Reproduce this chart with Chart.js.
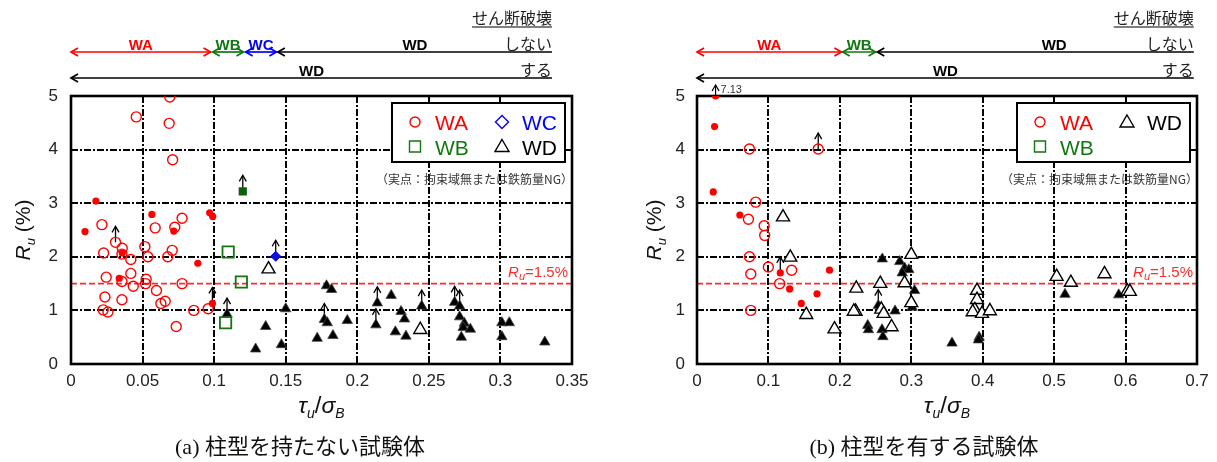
<!DOCTYPE html>
<html>
<head>
<meta charset="utf-8">
<script src="https://cdn.jsdelivr.net/npm/chart.js@4.4.1/dist/chart.umd.min.js"></script>
<style>
body { margin: 0; background: #fff; width: 1217px; height: 462px; overflow: hidden; position: relative; }
.panel { position: absolute; top: 0; height: 462px; }
#pa { left: 0; width: 620px; }
#pb { left: 620px; width: 597px; }
</style>
</head>
<body>
<div class="panel" id="pa"><canvas id="chartA" width="620" height="462"></canvas></div>
<div class="panel" id="pb"><canvas id="chartB" width="597" height="462"></canvas></div>
<script>
// ---- axis ticks ----
const xTicksA = [0, 0.05, 0.1, 0.15, 0.2, 0.25, 0.3, 0.35];
const xLabelsA = ['0', '0.05', '0.1', '0.15', '0.2', '0.25', '0.3', '0.35'];
const xTicksB = [0, 0.1, 0.2, 0.3, 0.4, 0.5, 0.6, 0.7];
const xLabelsB = ['0', '0.1', '0.2', '0.3', '0.4', '0.5', '0.6', '0.7'];
const yTicks = [0, 1, 2, 3, 4, 5];
const yLabels = ['0', '1', '2', '3', '4', '5'];
const refRu = 1.5;

// ---- (a) no column shape: [tau_u/sigma_B, Ru %] ----
const waOpenA = [
  [0.069, 4.98], [0.0456, 4.61], [0.0686, 4.49], [0.071, 3.81],
  [0.0216, 2.60], [0.0311, 2.27], [0.0358, 2.16], [0.0356, 2.05], [0.0228, 2.07], [0.0418, 1.95],
  [0.0516, 2.19], [0.0537, 2.0], [0.0588, 2.54], [0.0725, 2.55], [0.0776, 2.72], [0.0707, 2.12], [0.0676, 2.0],
  [0.0246, 1.62], [0.0418, 1.69], [0.0356, 1.54], [0.0435, 1.45], [0.0525, 1.58], [0.0521, 1.50],
  [0.0597, 1.37], [0.0776, 1.50], [0.0237, 1.25], [0.0356, 1.20], [0.0658, 1.17], [0.0628, 1.13],
  [0.0225, 1.01], [0.0258, 0.97], [0.0735, 0.70], [0.0858, 1.0], [0.0958, 1.03]
];
const waFilledA = [
  [0.0174, 3.04], [0.0098, 2.47], [0.0565, 2.79], [0.0718, 2.48], [0.0969, 2.82], [0.099, 2.75],
  [0.0358, 2.07], [0.0337, 1.60], [0.0886, 1.88], [0.0988, 1.13]
];
const wbOpenA = [[0.1098, 2.09], [0.119, 1.53], [0.108, 0.77]];
const wbFilledA = [[0.12, 3.22]];
const wcFilledA = [[0.143, 2.01]];
const wdOpenA = [[0.138, 1.77], [0.244, 0.64]];
const wdFilledA = [
  [0.109, 0.93], [0.136, 0.70], [0.129, 0.28], [0.147, 0.36], [0.15, 1.03],
  [0.1785, 1.46], [0.182, 1.39], [0.177, 0.83], [0.179, 0.77], [0.172, 0.48], [0.183, 0.53], [0.193, 0.81],
  [0.214, 1.14], [0.213, 0.73], [0.2237, 1.28], [0.2306, 0.98], [0.233, 0.84], [0.2266, 0.60], [0.234, 0.52],
  [0.245, 1.08], [0.268, 1.15], [0.2715, 1.08], [0.2715, 0.88], [0.2748, 0.76], [0.274, 0.68], [0.279, 0.65],
  [0.2727, 0.50], [0.301, 0.77], [0.3062, 0.77], [0.301, 0.51], [0.331, 0.41]
];
// specimens that did not reach the limit (arrow up)
const upA = [
  [0.0311, 2.27], [0.0988, 1.13], [0.109, 0.93], [0.12, 3.22], [0.143, 2.01], [0.177, 0.83],
  [0.214, 1.14], [0.213, 0.73], [0.245, 1.08], [0.268, 1.15], [0.2715, 1.08]
];

// ---- (b) with column shape ----
const waOpenB = [
  [0.0734, 4.01], [0.1697, 4.01], [0.0822, 3.02], [0.072, 2.70], [0.094, 2.58], [0.0948, 2.40],
  [0.0734, 2.0], [0.0753, 1.68], [0.0999, 1.81], [0.1325, 1.75], [0.1157, 1.50], [0.0753, 1.0]
];
const waFilledB = [
  [0.026, 5.0], [0.0246, 4.43], [0.0227, 3.21], [0.06, 2.78], [0.1166, 1.70], [0.1297, 1.40],
  [0.146, 1.13], [0.168, 1.31], [0.1855, 1.75]
];
const wdOpenB = [
  [0.1204, 2.74], [0.1306, 1.99], [0.153, 0.92], [0.1925, 0.65], [0.223, 1.41], [0.222, 0.98], [0.2195, 0.98],
  [0.2566, 1.50], [0.258, 1.02], [0.2613, 0.94], [0.2724, 0.69], [0.2906, 1.51], [0.3, 2.04], [0.3, 1.14],
  [0.392, 1.37], [0.392, 1.20], [0.389, 1.01], [0.386, 0.97], [0.399, 0.94], [0.41, 0.99],
  [0.5035, 1.63], [0.5234, 1.52], [0.5705, 1.68], [0.6025, 1.36], [0.606, 1.35]
];
const wdFilledB = [
  [0.2227, 1.42], [0.2594, 1.96], [0.2838, 1.91], [0.2907, 1.79], [0.2966, 1.76], [0.2873, 1.70],
  [0.3046, 1.37], [0.2538, 1.09], [0.2773, 0.99], [0.3012, 1.06], [0.239, 0.72], [0.24, 0.64],
  [0.259, 0.64], [0.2603, 0.51], [0.357, 0.39], [0.395, 0.50], [0.394, 0.45], [0.5152, 1.30], [0.5904, 1.29]
];
const upB = [[0.1697, 4.01], [0.1166, 1.70], [0.2538, 1.09]];
const offScaleB = { x: 0.026, y: 5.0, label: '7.13' };

// classification ranges shown above each plot
const rangesA = [
  { name: 'WA', from: 0, to: 0.0975, heads: 'both', row: 0 },
  { name: 'WB', from: 0.099, to: 0.1205, heads: 'both', row: 0 },
  { name: 'WC', from: 0.122, to: 0.1435, heads: 'both', row: 0 },
  { name: 'WD', from: 0.1445, to: 0.336, heads: 'left', row: 0 },
  { name: 'WD', from: 0, to: 0.336, heads: 'left', row: 1 }
];
const rangesB = [
  { name: 'WA', from: 0, to: 0.2022, heads: 'both', row: 0 },
  { name: 'WB', from: 0.204, to: 0.25, heads: 'both', row: 0 },
  { name: 'WD', from: 0.2524, to: 0.6955, heads: 'left', row: 0, mid: 0.50 },
  { name: 'WD', from: 0, to: 0.6955, heads: 'left', row: 1 }
];

const RED = '#ff0000', GREEN = '#117711', BLUE = '#0000ff', BLACK = '#000';
const colorOf = { WA: RED, WB: GREEN, WC: BLUE, WD: BLACK };
const SANS = '"Liberation Sans", Arial, sans-serif';
const JP = '"Noto Sans CJK JP", sans-serif';

const pts = arr => arr.map(p => ({ x: p[0], y: p[1] }));
function ds(label, arr, style) {
  return Object.assign({ label: label, data: pts(arr), showLine: false, pointHoverRadius: style.pointRadius }, style);
}
const sOpenCircle = { pointStyle: 'circle', pointRadius: 5, pointBorderWidth: 1.4, pointBorderColor: RED, pointBackgroundColor: 'rgba(255,255,255,0)' };
const sFillCircle = { pointStyle: 'circle', pointRadius: 3.6, pointBorderWidth: 0, pointBorderColor: RED, pointBackgroundColor: RED };
const sOpenSquare = { pointStyle: 'rect', pointRadius: 8, pointBorderWidth: 1.8, pointBorderColor: GREEN, pointBackgroundColor: 'rgba(255,255,255,0)' };
const sFillSquare = { pointStyle: 'rect', pointRadius: 5.8, pointBorderWidth: 0, pointBorderColor: GREEN, pointBackgroundColor: '#0d5e0d' };
const sFillDiamond = { pointStyle: 'rectRot', pointRadius: 5, pointBorderWidth: 1, pointBorderColor: BLUE, pointBackgroundColor: '#1010d0' };
const sOpenTri = { pointStyle: 'triangle', pointRadius: 7.5, pointBorderWidth: 1.4, pointBorderColor: BLACK, pointBackgroundColor: '#fff' };
const sFillTri = { pointStyle: 'triangle', pointRadius: 6, pointBorderWidth: 0.8, pointBorderColor: '#444', pointBackgroundColor: BLACK };

function makeScales(xTicks, xLabels, xMax, yWidth, yPad) {
  return {
    x: {
      type: 'linear', min: 0, max: xMax,
      afterBuildTicks: s => { s.ticks = xTicks.map(v => ({ value: v })); },
      afterFit: s => { s.height = 98; },
      grid: { color: BLACK, lineWidth: 2, drawTicks: false },
      border: { display: false, dash: [7, 2, 2, 2] },
      ticks: { padding: 7, color: '#222', maxRotation: 0, autoSkip: false, font: { family: SANS, size: 17 },
        callback: (v, i) => xLabels[i] }
    },
    y: {
      type: 'linear', min: 0, max: 5,
      afterBuildTicks: s => { s.ticks = yTicks.map(v => ({ value: v })); },
      afterFit: s => { s.width = yWidth; },
      grid: { color: BLACK, lineWidth: 2, drawTicks: false },
      border: { display: false, dash: [7, 2, 2, 2] },
      ticks: { padding: yPad, color: '#222', font: { family: SANS, size: 17 },
        callback: (v, i) => yLabels[i] }
    }
  };
}

function rich(ctx, parts, x, y, align) {
  let w = 0;
  parts.forEach(p => { ctx.font = p.font; p.w = ctx.measureText(p.t).width; w += p.w; });
  let cx = align === 'center' ? x - w / 2 : align === 'right' ? x - w : x;
  ctx.textAlign = 'left';
  parts.forEach(p => { ctx.font = p.font; ctx.fillText(p.t, cx, y + (p.dy || 0)); cx += p.w; });
}

function head(ctx, x, y, dir) {
  ctx.beginPath();
  if (dir === 'left') { ctx.moveTo(x + 7, y - 4); ctx.lineTo(x, y); ctx.lineTo(x + 7, y + 4); }
  else if (dir === 'right') { ctx.moveTo(x - 7, y - 4); ctx.lineTo(x, y); ctx.lineTo(x - 7, y + 4); }
  else { ctx.moveTo(x - 3.5, y + 6); ctx.lineTo(x, y); ctx.lineTo(x + 3.5, y + 6); }
  ctx.stroke();
}

function upArrow(ctx, x, y, len) {
  ctx.beginPath(); ctx.moveTo(x, y); ctx.lineTo(x, y - len); ctx.stroke();
  head(ctx, x, y - len, 'up');
}

function symbol(ctx, kind, x, y, color) {
  ctx.save();
  ctx.strokeStyle = color; ctx.lineWidth = 1.4;
  ctx.beginPath();
  if (kind === 'circle') ctx.arc(x, y, 5, 0, Math.PI * 2);
  else if (kind === 'square') ctx.rect(x - 5.5, y - 5.5, 11, 11);
  else if (kind === 'diamond') { ctx.moveTo(x, y - 6.5); ctx.lineTo(x + 6.5, y); ctx.lineTo(x, y + 6.5); ctx.lineTo(x - 6.5, y); ctx.closePath(); }
  else { ctx.moveTo(x, y - 7); ctx.lineTo(x + 7, y + 5); ctx.lineTo(x - 7, y + 5); ctx.closePath(); }
  ctx.stroke();
  ctx.restore();
}

const specs = {
  chartA: { ranges: rangesA, up: upA, yTitleDx: 49, caption: '(a) 柱型を持たない試験体', captionX: 300,
    legend: [['circle', 'WA', 0, 0], ['diamond', 'WC', 1, 0], ['square', 'WB', 0, 1], ['triangle', 'WD', 1, 1]] },
  chartB: { ranges: rangesB, up: upB, yTitleDx: 44, caption: '(b) 柱型を有する試験体', captionX: 304,
    legend: [['circle', 'WA', 0, 0], ['triangle', 'WD', 1, 0], ['square', 'WB', 0, 1]], offScale: offScaleB }
};

const decor = {
  id: 'decor',
  beforeDatasetsDraw(chart) {
    const { ctx, chartArea: ca, scales: { x, y } } = chart;
    const sp = specs[chart.canvas.id];
    ctx.save();
    // Ru = 1.5% reference
    const yy = y.getPixelForValue(refRu);
    ctx.strokeStyle = '#ff2a2a'; ctx.lineWidth = 1.6; ctx.setLineDash([6, 3]);
    ctx.beginPath(); ctx.moveTo(ca.left, yy); ctx.lineTo(ca.right, yy); ctx.stroke();
    ctx.setLineDash([]);
    // frame
    ctx.strokeStyle = BLACK; ctx.lineWidth = 2.6;
    ctx.strokeRect(ca.left, ca.top, ca.right - ca.left, ca.bottom - ca.top);
    // arrows for specimens that kept load
    ctx.strokeStyle = BLACK; ctx.lineWidth = 1.3;
    sp.up.forEach(p => upArrow(ctx, x.getPixelForValue(p[0]), y.getPixelForValue(p[1]), 16));
    // Ru label
    ctx.fillStyle = '#ff2a2a'; ctx.textBaseline = 'alphabetic';
    rich(ctx, [
      { t: 'R', font: 'italic 15px ' + SANS },
      { t: 'u', font: 'italic 11px ' + SANS, dy: 3 },
      { t: '=1.5%', font: '15px ' + SANS }
    ], ca.right - 4, yy - 7, 'right');
    ctx.restore();
  },
  afterDraw(chart) {
    const { ctx, chartArea: ca, scales: { x, y } } = chart;
    const sp = specs[chart.canvas.id];
    ctx.save();
    ctx.textBaseline = 'alphabetic';

    // legend box
    const bl = ca.right - 180, bt = 103, bw = 173, bh = 59;
    ctx.fillStyle = '#fff'; ctx.fillRect(bl, bt, bw, bh);
    ctx.strokeStyle = BLACK; ctx.lineWidth = 2; ctx.strokeRect(bl, bt, bw, bh);
    sp.legend.forEach(e => {
      const sx = bl + (e[2] ? 110 : 23), ty = e[3] ? 146.5 : 122;
      symbol(ctx, e[0], sx, ty, colorOf[e[1]]);
      ctx.fillStyle = colorOf[e[1]]; ctx.font = '21px ' + SANS; ctx.textAlign = 'left';
      ctx.fillText(e[1], sx + 20, ty + 8);
    });
    ctx.fillStyle = '#333'; ctx.font = '12px ' + JP; ctx.textAlign = 'right';
    ctx.fillText('（実点：拘束域無または鉄筋量NG）', ca.right + 1, 184);

    // ranges on top
    const endX = x.getPixelForValue(sp.ranges[sp.ranges.length - 1].to);
    ctx.lineWidth = 1.7;
    sp.ranges.forEach(r => {
      const x1 = x.getPixelForValue(r.from), x2 = x.getPixelForValue(r.to);
      const ly = r.row ? 78 : 52;
      ctx.strokeStyle = colorOf[r.name];
      ctx.beginPath(); ctx.moveTo(x1, ly); ctx.lineTo(x2, ly); ctx.stroke();
      head(ctx, x1, ly, 'left');
      if (r.heads === 'both') head(ctx, x2, ly, 'right');
      ctx.fillStyle = colorOf[r.name]; ctx.font = 'bold 15px ' + SANS; ctx.textAlign = 'center';
      const mx = r.mid !== undefined ? x.getPixelForValue(r.mid) : (x1 + x2) / 2;
      ctx.fillText(r.name, mx, r.row ? 76 : 50);
    });
    ctx.fillStyle = '#222'; ctx.font = '16px ' + JP; ctx.textAlign = 'right';
    ctx.fillText('せん断破壊', endX, 24);
    const hw = ctx.measureText('せん断破壊').width;
    ctx.strokeStyle = '#555'; ctx.lineWidth = 1.5;
    ctx.beginPath(); ctx.moveTo(endX - hw, 27); ctx.lineTo(endX, 27); ctx.stroke();
    ctx.font = '16px ' + JP;
    ctx.fillText('しない', endX, 50);
    ctx.fillText('する', endX, 76);

    // off-scale value
    if (sp.offScale) {
      const px = x.getPixelForValue(sp.offScale.x), py = y.getPixelForValue(sp.offScale.y);
      ctx.strokeStyle = BLACK; ctx.lineWidth = 1.2;
      upArrow(ctx, px, py, 11);
      ctx.fillStyle = '#333'; ctx.font = '11px ' + SANS; ctx.textAlign = 'left';
      ctx.fillText(sp.offScale.label, px + 5, 93);
    }

    // axis titles
    ctx.fillStyle = '#111';
    rich(ctx, [
      { t: 'τ', font: 'italic 23px ' + SANS },
      { t: 'u', font: 'italic 14px ' + SANS, dy: 5 },
      { t: '/', font: '24px ' + SANS },
      { t: 'σ', font: 'italic 23px ' + SANS },
      { t: 'B', font: 'italic 14px ' + SANS, dy: 5 }
    ], (ca.left + ca.right) / 2, 413, 'center');
    ctx.save();
    ctx.translate(ca.left - sp.yTitleDx, 230);
    ctx.rotate(-Math.PI / 2);
    rich(ctx, [
      { t: 'R', font: 'italic 21px ' + SANS },
      { t: 'u', font: 'italic 13px ' + SANS, dy: 5 },
      { t: ' (%)', font: '21px ' + SANS }
    ], 0, 8, 'center');
    ctx.restore();

    // caption
    ctx.fillStyle = '#111'; ctx.font = '22px "Liberation Serif", ' + JP; ctx.textAlign = 'center';
    ctx.fillText(sp.caption, sp.captionX, 454);
    ctx.restore();
  }
};

const common = {
  responsive: false, animation: false, events: [],
  plugins: { legend: { display: false }, tooltip: { enabled: false } }
};

new Chart(document.getElementById('chartA'), {
  type: 'scatter',
  data: { datasets: [
    ds('WA', waOpenA, sOpenCircle),
    ds('WA 実点', waFilledA, sFillCircle),
    ds('WB', wbOpenA, sOpenSquare),
    ds('WB 実点', wbFilledA, sFillSquare),
    ds('WC 実点', wcFilledA, sFillDiamond),
    ds('WD', wdOpenA, sOpenTri),
    ds('WD 実点', wdFilledA, sFillTri)
  ] },
  options: Object.assign({}, common, {
    layout: { padding: { top: 96, right: 48, bottom: 0, left: 0 } },
    scales: makeScales(xTicksA, xLabelsA, 0.35, 71, 13)
  }),
  plugins: [decor]
});

new Chart(document.getElementById('chartB'), {
  type: 'scatter',
  data: { datasets: [
    ds('WA', waOpenB, sOpenCircle),
    ds('WA 実点', waFilledB, sFillCircle),
    ds('WD', wdOpenB, sOpenTri),
    ds('WD 実点', wdFilledB, sFillTri)
  ] },
  options: Object.assign({}, common, {
    layout: { padding: { top: 96, right: 20, bottom: 0, left: 0 } },
    scales: makeScales(xTicksB, xLabelsB, 0.7, 77, 12)
  }),
  plugins: [decor]
});
</script>
</body>
</html>
